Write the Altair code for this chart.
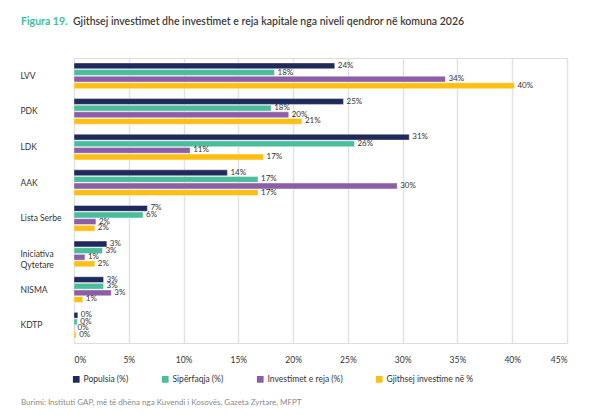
import altair as alt
import pandas as pd

parties = ["LVV", "PDK", "LDK", "AAK", "Lista Serbe", "Iniciativa|Qytetare", "NISMA", "KDTP"]
series = ["Populsia (%)", "Sipërfaqja (%)", "Investimet e reja (%)", "Gjithsej investime në %"]
populsia = [23.8, 24.6, 30.6, 14.0, 6.7, 3.0, 2.7, 0.35]
siperfaqja = [18.3, 18.0, 25.6, 16.8, 6.3, 2.6, 2.7, 0.3]
investimet_reja = [33.9, 19.6, 10.6, 29.5, 2.0, 1.0, 3.4, 0.05]
gjithsej = [40.2, 20.8, 17.3, 16.8, 1.9, 1.9, 0.8, 0.2]
colors = ["#1f2a5b", "#4bbd9a", "#8b5ea7", "#fdbf14"]
x_ticks = [0, 5, 10, 15, 20, 25, 30, 35, 40, 45]

rows = []
for s, vals in zip(series, [populsia, siperfaqja, investimet_reja, gjithsej]):
    for p, v in zip(parties, vals):
        rows.append({"party": p, "series": s, "value": v})
df = pd.DataFrame(rows)

FONT = "Lato"

y_enc = alt.Y("party:N", sort=parties,
              scale=alt.Scale(paddingInner=0.28, paddingOuter=0.14),
              axis=alt.Axis(title=None, labelAlign="left", labelPadding=54, ticks=False,
                            domain=False, labelFontSize=8.5, labelColor="#333333",
                            labelFont=FONT, labelExpr="split(datum.label, '|')",
                            labelLineHeight=11))
yoff = alt.YOffset("series:N", sort=series, scale=alt.Scale(paddingInner=0.12))

x_enc = alt.X("value:Q", scale=alt.Scale(domain=[0, 45], nice=False),
              axis=alt.Axis(title=None, values=x_ticks, labelExpr="datum.value + '%'",
                            grid=True, gridColor="#e3e3e3", gridWidth=1.5, domain=False,
                            ticks=False, labelPadding=12, labelFontSize=8.5,
                            labelColor="#333333", labelFont=FONT))

bars = alt.Chart(df).mark_bar(stroke="white", strokeWidth=0.4).encode(
    y=y_enc, yOffset=yoff, x=x_enc,
    color=alt.Color("series:N", sort=series,
                    scale=alt.Scale(domain=series, range=colors),
                    legend=alt.Legend(title=None, orient="none", legendX=-2, legendY=317,
                                      direction="horizontal", columns=4, columnPadding=32,
                                      symbolType="square", symbolSize=45, symbolStrokeWidth=0,
                                      labelFontSize=8.5, labelFont=FONT, labelColor="#333333",
                                      labelOffset=3))
)

labels = alt.Chart(df).transform_calculate(
    lab="format(datum.value, '.0f') + '%'"
).mark_text(align="left", baseline="middle", dx=3, fontSize=8, font=FONT,
            color="#333333").encode(
    y=alt.Y("party:N", sort=parties), yOffset=yoff, x=alt.X("value:Q"), text="lab:N")

title1 = alt.Chart(pd.DataFrame({"t": ["Figura 19."]})).mark_text(
    align="left", baseline="middle", fontSize=10.5, fontWeight="bold", font=FONT,
    color="#3dbf9d").encode(x=alt.value(-53), y=alt.value(-36), text="t:N")
title2 = alt.Chart(pd.DataFrame({"t": ["Gjithsej investimet dhe investimet e reja kapitale nga niveli qendror në komuna 2026"]})).mark_text(
    align="left", baseline="middle", fontSize=10.5, fontWeight=600, font=FONT,
    color="#3c3c3c").encode(x=alt.value(-1), y=alt.value(-36), text="t:N")
source = alt.Chart(pd.DataFrame({"t": ["Burimi: Instituti GAP, më të dhëna nga Kuvendi i Kosovës, Gazeta Zyrtare, MFPT"]})).mark_text(
    align="left", baseline="middle", fontSize=8, font=FONT,
    color="#8a8a8a").encode(x=alt.value(-53), y=alt.value(345), text="t:N")

chart = alt.layer(bars, labels, title1, title2, source).properties(
    width=493, height=285,
    autosize=alt.AutoSizeParams(type="none"),
    padding={"left": 66, "top": 50, "right": 35, "bottom": 64},
).configure_view(stroke=None).configure(background="white")

chart.save("out.html", embed_options={"renderer": "svg", "actions": False})
